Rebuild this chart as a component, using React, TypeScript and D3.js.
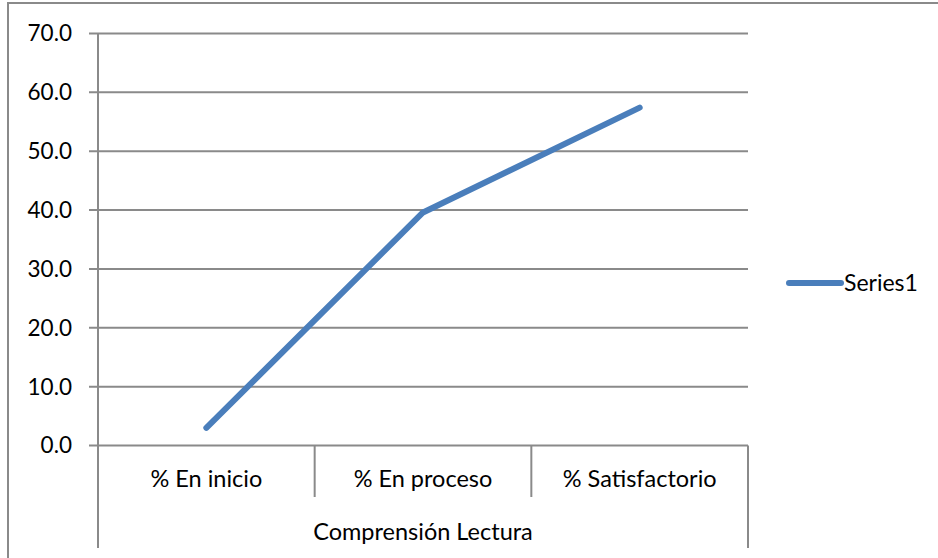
import React from 'react';
import * as d3 from 'd3';

const categories = ['% En inicio', '% En proceso', '% Satisfactorio'];
const seriesValues = [3.0, 39.6, 57.4];
const yTicks = [0, 10, 20, 30, 40, 50, 60, 70];
const groupLabel = 'Comprensión Lectura';
const seriesName = 'Series1';

const width = 938;
const height = 558;
const FONT = 'Lato, "Open Sans", sans-serif';
const GRID = '#8a8a8a';
const BLUE = '#4a7ebb';

export default function App() {
  const plot = { left: 98, right: 748, top: 33.5, bottom: 445.5 };

  const x = d3.scaleBand<string>()
    .domain(categories)
    .range([plot.left, plot.right])
    .padding(0);

  const y = d3.scaleLinear()
    .domain([0, 70])
    .range([plot.bottom, plot.top]);

  const line = d3.line<number>()
    .x((_, i) => (x(categories[i]) as number) + x.bandwidth() / 2)
    .y(d => y(d));

  // category separators: every band edge
  const edges = categories.map(c => x(c) as number).concat([plot.right]);

  return (
    <svg width={width} height={height} style={{ position: 'absolute', left: 0, top: 0, background: '#fff' }}>
      {/* chart frame */}
      <rect x={8} y={3} width={width + 20} height={height + 20} fill="none" stroke={GRID} strokeWidth={2} />

      {/* gridlines + y ticks */}
      {yTicks.map(t => (
        <g key={t}>
          <line x1={plot.left - 9} x2={plot.right} y1={y(t)} y2={y(t)} stroke={GRID} strokeWidth={2} />
          <text x={72} y={y(t)} dy="0.35em" textAnchor="end" fontFamily={FONT} fontSize={22.5} fill="#000">
            {t.toFixed(1)}
          </text>
        </g>
      ))}

      {/* y axis */}
      <line x1={plot.left} x2={plot.left} y1={plot.top} y2={548} stroke={GRID} strokeWidth={2} />

      {/* category separators */}
      {edges.map((e, i) => (
        <line key={i} x1={e} x2={e} y1={plot.bottom}
          y2={i === 0 || i === edges.length - 1 ? 548 : 497}
          stroke={GRID} strokeWidth={2} />
      ))}

      {/* category labels */}
      {categories.map(c => (
        <text key={c} x={(x(c) as number) + x.bandwidth() / 2} y={479} dy="0.35em"
          textAnchor="middle" fontFamily={FONT} fontSize={23.5} fill="#000">
          {c}
        </text>
      ))}
      <text x={(plot.left + plot.right) / 2} y={532} dy="0.35em" textAnchor="middle"
        fontFamily={FONT} fontSize={23.5} fill="#000">
        {groupLabel}
      </text>

      {/* series line */}
      <path d={line(seriesValues) || ''} fill="none" stroke={BLUE} strokeWidth={6}
        strokeLinecap="round" strokeLinejoin="round" />

      {/* legend */}
      <line x1={789} x2={841} y1={283} y2={283} stroke={BLUE} strokeWidth={6} strokeLinecap="round" />
      <text x={844} y={283} dy="0.35em" fontFamily={FONT} fontSize={23} fill="#000">{seriesName}</text>
    </svg>
  );
}
